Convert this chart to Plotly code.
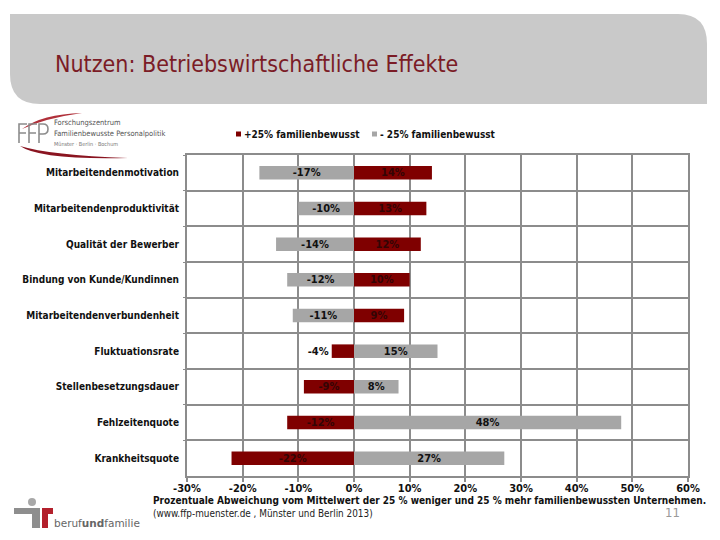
import plotly.graph_objects as go

categories = [
    "Mitarbeitendenmotivation",
    "Mitarbeitendenproduktivität",
    "Qualität der Bewerber",
    "Bindung von Kunde/Kundinnen",
    "Mitarbeitendenverbundenheit",
    "Fluktuationsrate",
    "Stellenbesetzungsdauer",
    "Fehlzeitenquote",
    "Krankheitsquote",
]
plus25 = [14, 13, 12, 10, 9, -4, -9, -12, -22]          # +25% familienbewusst
minus25 = [-17, -10, -14, -12, -11, 15, 8, 48, 27]      # - 25% familienbewusst
series_names = ["+25% familienbewusst", "- 25% familienbewusst"]
x_ticks = [-30, -20, -10, 0, 10, 20, 30, 40, 50, 60]

RED = "#7f0000"
GRAY = "#a6a6a6"
FONT = "DejaVu Sans Condensed"

W, H = 720, 540
L, R, T, B = 187, 32, 155, 64
PW, PH = W - L - R, H - T - B


def px(x):
    return (x - L) / PW


def py(y):
    return (H - B - y) / PH


fig = go.Figure()

pos_red = ["outside" if abs(v) < 6 else "inside" for v in plus25]
fig.add_trace(go.Bar(
    y=categories, x=minus25, orientation="h", name=series_names[1],
    marker=dict(color=GRAY, line=dict(width=0)), width=0.38,
    text=[f"{v}%" for v in minus25], textposition="inside",
    insidetextanchor="middle", textangle=0, constraintext="none",
    textfont=dict(family=FONT, size=11, color="#111111", weight="bold"),
    showlegend=False,
))
fig.add_trace(go.Bar(
    y=categories, x=plus25, orientation="h", name=series_names[0],
    marker=dict(color=RED, line=dict(width=0)), width=0.38,
    text=[f"{v}%" for v in plus25], textposition=pos_red,
    insidetextanchor="middle", textangle=0, constraintext="none",
    insidetextfont=dict(family=FONT, size=11, color="#330505", weight="bold"),
    outsidetextfont=dict(family=FONT, size=11, color="#111111", weight="bold"),
    showlegend=False,
))

fig.update_layout(
    width=W, height=H, barmode="overlay",
    margin=dict(l=L, r=R, t=T, b=B, autoexpand=False),
    paper_bgcolor="white", plot_bgcolor="white",
    uniformtext=dict(mode=False),
    xaxis=dict(
        range=[-30, 60], tickvals=x_ticks, ticktext=[f"{v}%" for v in x_ticks],
        showgrid=True, gridcolor="#8c8c8c", gridwidth=2, zeroline=False,
        showline=True, linecolor="#8c8c8c", linewidth=2, mirror=True,
        ticks="outside", ticklen=4, tickcolor="#8c8c8c", tickwidth=2,
        ticklabelstandoff=-3,
        tickfont=dict(family=FONT, size=11, color="#111111", weight="bold"),
        automargin=False, fixedrange=True,
    ),
    yaxis=dict(
        type="category", categoryorder="array", categoryarray=categories,
        autorange="reversed", tickson="boundaries",
        showgrid=True, gridcolor="#8c8c8c", gridwidth=2,
        showline=True, linecolor="#8c8c8c", linewidth=2, mirror=True,
        ticks="outside", ticklen=2, tickcolor="#8c8c8c",
        ticklabelstandoff=4,
        tickfont=dict(family=FONT, size=10, color="#111111", weight="bold"),
        automargin=False, fixedrange=True,
    ),
)

shapes = []
annotations = []

# Title banner
banner = (f"M{px(10)},{py(14)} L{px(678)},{py(14)} "
          f"Q{px(707)},{py(14)} {px(707)},{py(44)} "
          f"L{px(707)},{py(104)} L{px(40)},{py(104)} "
          f"Q{px(10)},{py(104)} {px(10)},{py(74)} Z")
shapes.append(dict(type="path", xref="paper", yref="paper", path=banner,
                   fillcolor="#c9c9c9", line=dict(width=0), layer="below"))
annotations.append(dict(xref="paper", yref="paper", x=px(53), y=py(64),
                        xanchor="left", yanchor="middle", showarrow=False,
                        text="Nutzen: Betriebswirtschaftliche Effekte",
                        font=dict(family=FONT, size=23, color="#7b1c26")))

# Legend (manual)
leg_items = [(236, RED, series_names[0]), (372, GRAY, series_names[1])]
for x0, col, name in leg_items:
    shapes.append(dict(type="rect", xref="paper", yref="paper",
                       x0=px(x0), x1=px(x0 + 5), y0=py(131.5), y1=py(136.5),
                       fillcolor=col, line=dict(width=0)))
    annotations.append(dict(xref="paper", yref="paper", x=px(x0 + 6), y=py(134),
                            xanchor="left", yanchor="middle", showarrow=False,
                            text=name,
                            font=dict(family=FONT, size=10, color="#111111", weight="bold")))

# Axis caption and source
annotations.append(dict(xref="paper", yref="paper", x=px(151), y=py(501),
                        xanchor="left", yanchor="middle", showarrow=False,
                        text="Prozentuale Abweichung vom Mittelwert der 25 % weniger und 25 % mehr familienbewussten Unternehmen.",
                        font=dict(family=FONT, size=10, color="#111111", weight="bold")))
annotations.append(dict(xref="paper", yref="paper", x=px(151), y=py(513),
                        xanchor="left", yanchor="middle", showarrow=False,
                        text="(www.ffp-muenster.de , Münster und Berlin 2013)",
                        font=dict(family=FONT, size=9.9, color="#222222")))
annotations.append(dict(xref="paper", yref="paper", x=px(672), y=py(512),
                        xanchor="center", yanchor="middle", showarrow=False,
                        text="11", font=dict(family=FONT, size=13, color="#9a9a9a")))

# FFP logo: swooshes
shapes.append(dict(type="path", xref="paper", yref="paper",
                   path=(f"M{px(22)},{py(129)} Q{px(42)},{py(114)} {px(82)},{py(113)} "
                         f"Q{px(46)},{py(118)} {px(22)},{py(129)} Z"),
                   fillcolor="#b0303a", line=dict(width=0)))
shapes.append(dict(type="path", xref="paper", yref="paper",
                   path=(f"M{px(20)},{py(146)} Q{px(40)},{py(160)} {px(128)},{py(158)} "
                         f"Q{px(50)},{py(155)} {px(20)},{py(146)} Z"),
                   fillcolor="#8a1420", line=dict(width=0)))
# FFP letters drawn as thin strokes
LG = dict(color="#8c8c8c", width=1.6)
for fx in (19, 29):
    shapes.append(dict(type="path", xref="paper", yref="paper", line=LG,
                       path=(f"M{px(fx)},{py(143)} L{px(fx)},{py(124)} L{px(fx + 8)},{py(124)} "
                             f"M{px(fx)},{py(133)} L{px(fx + 7)},{py(133)}")))
shapes.append(dict(type="path", xref="paper", yref="paper", line=LG,
                   path=(f"M{px(39)},{py(143)} L{px(39)},{py(124)} L{px(43)},{py(124)} "
                         f"Q{px(48)},{py(124)} {px(48)},{py(129)} "
                         f"Q{px(48)},{py(134)} {px(43)},{py(134)} L{px(39)},{py(134)}")))
annotations.append(dict(xref="paper", yref="paper", x=px(52), y=py(122),
                        xanchor="left", yanchor="middle", showarrow=False,
                        text="Forschungszentrum", font=dict(family=FONT, size=7.5, color="#555555")))
annotations.append(dict(xref="paper", yref="paper", x=px(52), y=py(133),
                        xanchor="left", yanchor="middle", showarrow=False,
                        text="Familienbewusste Personalpolitik", font=dict(family=FONT, size=7.5, color="#555555")))
annotations.append(dict(xref="paper", yref="paper", x=px(52), y=py(144),
                        xanchor="left", yanchor="middle", showarrow=False,
                        text="Münster · Berlin · Bochum", font=dict(family=FONT, size=5.5, color="#777777")))

# berufundfamilie logo
shapes.append(dict(type="circle", xref="paper", yref="paper",
                   x0=px(28), x1=px(36), y0=py(498), y1=py(506),
                   fillcolor="#a8a8a8", line=dict(width=0)))
shapes.append(dict(type="rect", xref="paper", yref="paper",
                   x0=px(14), x1=px(40), y0=py(508), y1=py(514),
                   fillcolor="#8e8e8e", line=dict(width=0)))
shapes.append(dict(type="rect", xref="paper", yref="paper",
                   x0=px(32), x1=px(40), y0=py(508), y1=py(528),
                   fillcolor="#8e8e8e", line=dict(width=0)))
shapes.append(dict(type="rect", xref="paper", yref="paper",
                   x0=px(42), x1=px(53), y0=py(508), y1=py(514),
                   fillcolor="#b3202c", line=dict(width=0)))
shapes.append(dict(type="rect", xref="paper", yref="paper",
                   x0=px(42), x1=px(48), y0=py(508), y1=py(528),
                   fillcolor="#b3202c", line=dict(width=0)))
annotations.append(dict(xref="paper", yref="paper", x=px(52), y=py(523),
                        xanchor="left", yanchor="middle", showarrow=False,
                        text="beruf<b>und</b>familie",
                        font=dict(family="DejaVu Sans", size=10.5, color="#666666")))

fig.update_layout(shapes=shapes, annotations=annotations)
fig.write_html("out.html", config={"displayModeBar": False},
               post_script="document.body.style.margin='0';")
